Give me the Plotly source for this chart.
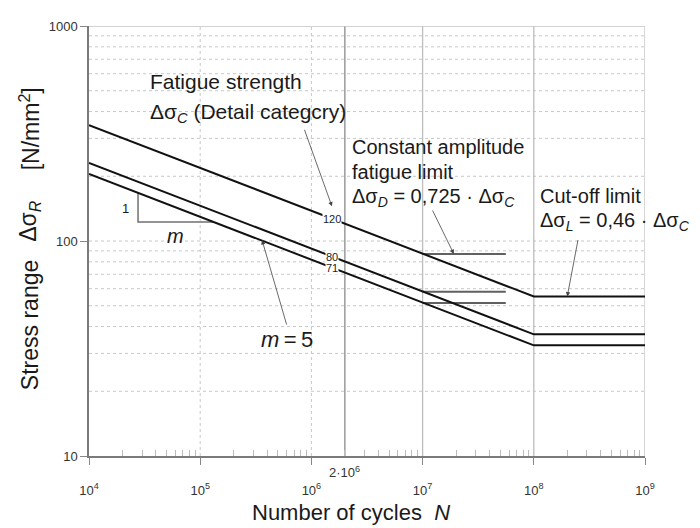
import math
import plotly.graph_objects as go

# ---------------- data ----------------
N_pts = [1e4, 1e8, 1e9]                      # start, cut-off knee, end
cat_labels = ["120", "80", "71"]
cat_values = {
    "120": [346, 55.2, 55.2],
    "80": [231, 36.8, 36.8],
    "71": [205, 32.7, 32.7],
}
cafl_N = [1e7, 5.6e7]                        # constant amplitude fatigue limit lines
cafl_values = [87, 58, 51.5]
label_N = 1.53e6                             # position of category labels
label_values = [126.5, 84.4, 74.9]
triangle_N = [2.76e4, 1.3e5]
triangle_values = [167, 122.6]

x_tick_vals = [1e4, 1e5, 1e6, 1e7, 1e8, 1e9]
x_tick_text = ["10<sup>4</sup>", "10<sup>5</sup>", "10<sup>6</sup>",
               "10<sup>7</sup>", "10<sup>8</sup>", "10<sup>9</sup>"]
x_minor_vals = [m * 10 ** e for e in range(4, 9) for m in range(2, 10)]
y_tick_vals = [10, 100, 1000]
y_tick_text = ["10", "100", "1000"]
grid_solid_N = [2e6, 1e7, 1e8]
grid_dot_N = [1e5, 1e6]
grid_dot_y = [20, 30, 40, 50, 60, 70, 80, 90, 100,
              200, 300, 400, 500, 600, 700, 800, 900]

# arrow heads (data) and tails (pixel offsets)
arrow_heads = [(1.53e6, 145), (1.91e7, 87), (2e8, 55.2), (3.6e5, 101)]
arrow_tails = [(-28, -78), (-22, -45), (11, -58), (25, 86)]

FONT = "Liberation Sans, Arial, sans-serif"
OFF = 8                                      # page body margin
W, H = 700 - OFF, 528 - OFF
L, R, T, B = 89, 645, 19, 456                # plot area in window pixels


def px(x):
    return (x - L) / (R - L)


def py(y):
    return (B - y) / (B - T)


fig = go.Figure()

# grid lines
gx, gy = [], []
for v in grid_dot_y:
    gx += [1e4, 1e9, None]
    gy += [v, v, None]
fig.add_trace(go.Scatter(x=gx, y=gy, mode="lines", hoverinfo="skip",
                         line=dict(color="#c8c8c8", width=1, dash="dot"), showlegend=False))
gx, gy = [], []
for v in grid_dot_N:
    gx += [v, v, None]
    gy += [10, 1000, None]
fig.add_trace(go.Scatter(x=gx, y=gy, mode="lines", hoverinfo="skip",
                         line=dict(color="#c8c8c8", width=1, dash="dot"), showlegend=False))
for v in grid_solid_N:
    fig.add_trace(go.Scatter(x=[v, v], y=[10, 1000], mode="lines", hoverinfo="skip",
                             line=dict(color="#8a8a8a" if v == 2e6 else "#bdbdbd", width=1.3),
                             showlegend=False))
# top & right border
fig.add_trace(go.Scatter(x=[1e4, 1e9, 1e9], y=[1000, 1000, 10], mode="lines", hoverinfo="skip",
                         line=dict(color="#c4c4c4", width=1.3), showlegend=False))

# constant amplitude limit lines
for v in cafl_values:
    fig.add_trace(go.Scatter(x=cafl_N, y=[v, v], mode="lines",
                             line=dict(color="#606060", width=2), showlegend=False))

# slope triangle
fig.add_trace(go.Scatter(x=[triangle_N[0], triangle_N[0], triangle_N[1]],
                         y=[triangle_values[0], triangle_values[1], triangle_values[1]],
                         mode="lines", line=dict(color="#707070", width=1.5), showlegend=False))

# S-N curves
for c in cat_labels:
    fig.add_trace(go.Scatter(x=N_pts, y=cat_values[c], mode="lines",
                             line=dict(color="#111111", width=2), showlegend=False))

ann = []
# category labels on curves
for c, v in zip(cat_labels, label_values):
    ann.append(dict(x=math.log10(label_N), y=math.log10(v), xref="x", yref="y", text=c,
                    showarrow=False, bgcolor="white", borderpad=0,
                    font=dict(size=11, color="#222", family=FONT)))

# arrows
for (hx, hy), (tx, ty) in zip(arrow_heads, arrow_tails):
    ann.append(dict(x=math.log10(hx), y=math.log10(hy), xref="x", yref="y", text="",
                    showarrow=True, ax=tx, ay=ty, axref="pixel", ayref="pixel",
                    arrowhead=2, arrowsize=1.1, arrowwidth=0.8, arrowcolor="#444", standoff=0))


def txt(x, y, s, size=20, xanchor="left", angle=0, color="#1a1a1a"):
    ann.append(dict(x=px(x), y=py(y), xref="paper", yref="paper", text=s, showarrow=False,
                    xanchor=xanchor, yanchor="middle", textangle=angle,
                    font=dict(size=size, color=color, family=FONT)))


txt(148, 75, "Fatigue strength", size=21)
txt(148, 107, "Δσ<sub><i>C</i></sub> (Detail categcry)", size=21)
txt(350, 142, "Constant amplitude")
txt(350, 167, "fatigue limit")
txt(350, 193, "Δσ<sub><i>D</i></sub> = 0,725 · Δσ<sub><i>C</i></sub>")
txt(538, 192, "Cut-off limit")
txt(538, 218, "Δσ<sub><i>L</i></sub> = 0,46 · Δσ<sub><i>C</i></sub>")
txt(287, 338, "<i>m</i>\u2009=\u20095", size=22, xanchor="center")
txt(125, 204, "1", size=13, xanchor="center")
txt(175, 232, "<i>m</i>", size=20, xanchor="center")
txt(351, 513, "Number of cycles  <i>N</i>", size=22, xanchor="center")
txt(30, 323, "Stress range", size=23, xanchor="center", angle=-90)
txt(30, 217, "Δσ<sub><i>R</i></sub>", size=23, xanchor="center", angle=-90)
txt(30, 124, "[N/mm<sup>2</sup>]", size=23, xanchor="center", angle=-90)
# extra x label 2·10^6
ann.append(dict(x=math.log10(2e6), y=py(472), xref="x", yref="paper", text="2·10<sup>6</sup>",
                showarrow=False, yanchor="middle",
                font=dict(size=13, color="#333", family=FONT)))

fig.update_layout(
    width=W, height=H,
    margin=dict(l=L - OFF, r=W - (R - OFF), t=T - OFF, b=H - (B - OFF)),
    paper_bgcolor="white", plot_bgcolor="white",
    font=dict(family=FONT, color="#333"),
    annotations=ann,
    xaxis=dict(type="log", range=[4, 9], showgrid=False, zeroline=False,
               tickmode="array", tickvals=x_tick_vals, ticktext=x_tick_text,
               ticks="outside", ticklen=7, tickcolor="#888", tickwidth=1,
               ticklabelstandoff=14,
               tickfont=dict(size=13, color="#333"),
               showline=True, linecolor="#7a7a7a", linewidth=2,
               minor=dict(tickmode="array", tickvals=x_minor_vals, ticks="inside",
                          ticklen=6, tickcolor="#bbbbbb", tickwidth=1, showgrid=False)),
    yaxis=dict(type="log", range=[1, 3], showgrid=False, zeroline=False,
               tickvals=y_tick_vals, ticktext=y_tick_text,
               ticks="outside", ticklen=7, tickcolor="#888", tickwidth=1,
               tickfont=dict(size=13, color="#333"),
               showline=True, linecolor="#7a7a7a", linewidth=1.5),
)

fig.write_html("out.html")
